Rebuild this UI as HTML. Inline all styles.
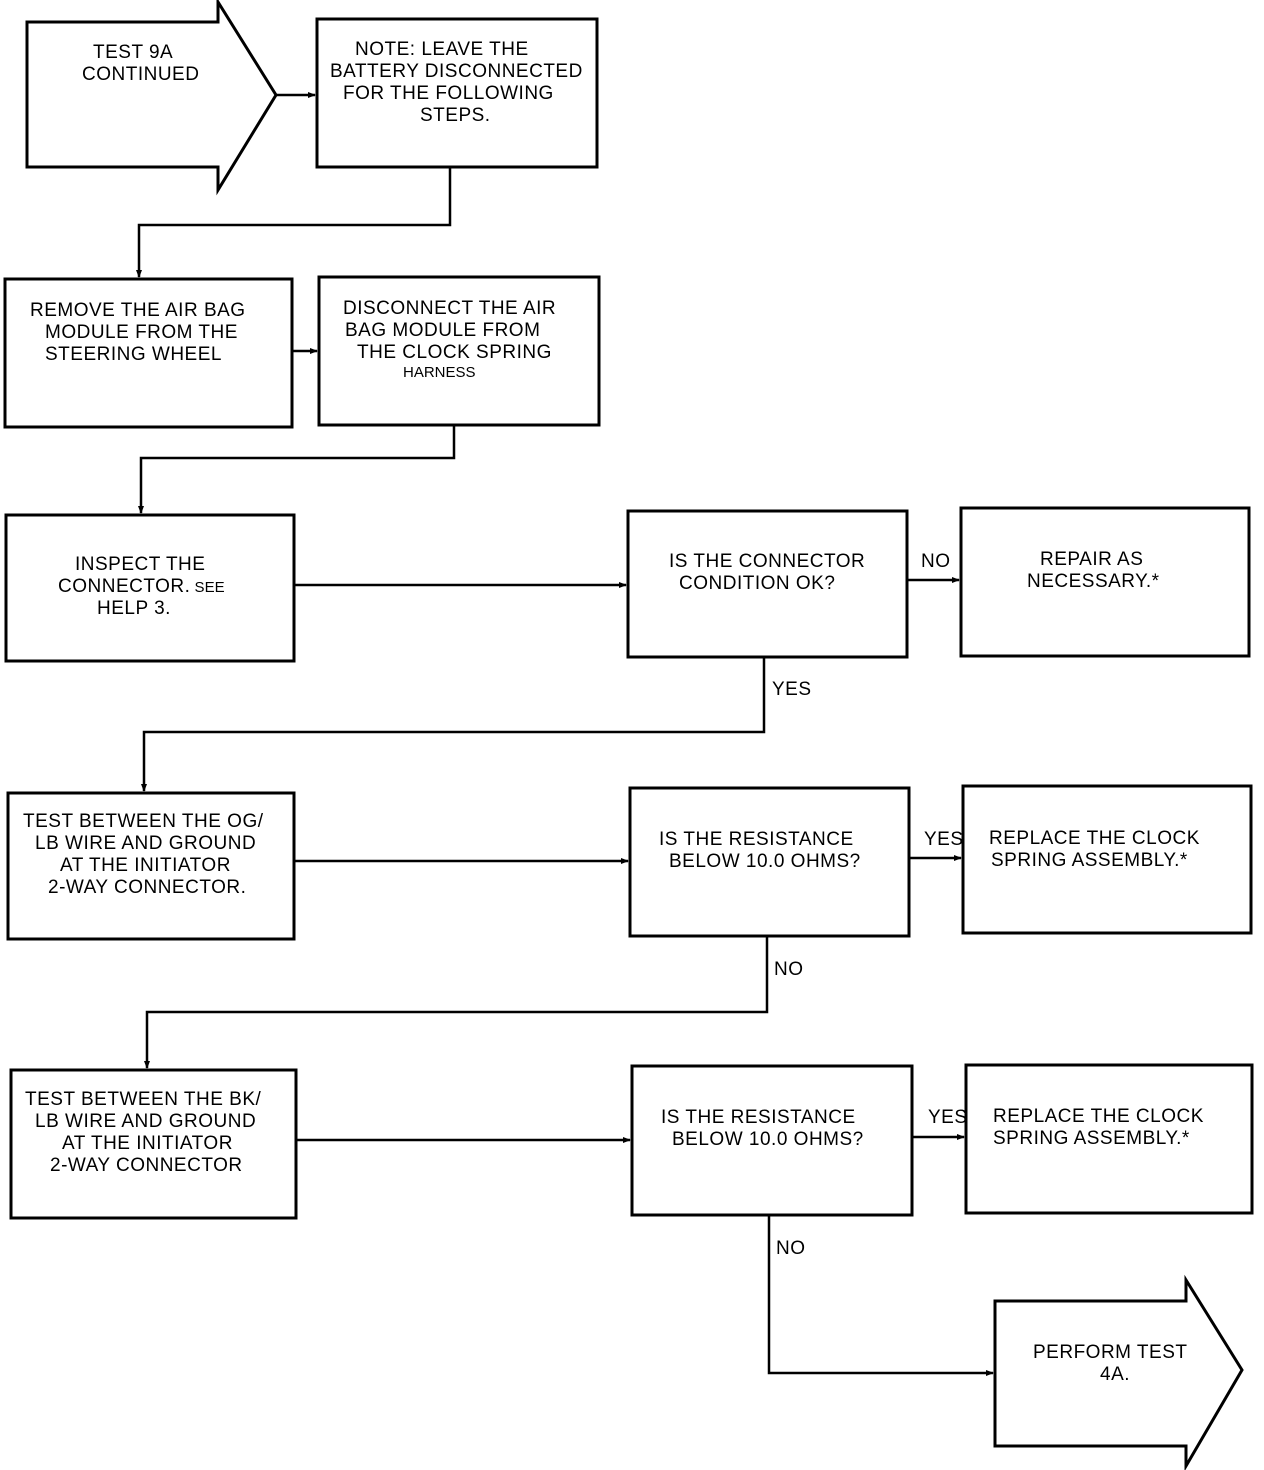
<!DOCTYPE html>
<html><head><meta charset="utf-8"><style>
html,body{margin:0;padding:0;background:#fff;}
svg{display:block;}
text{font-family:"Liberation Sans",sans-serif;font-size:19px;fill:#000;letter-spacing:0.5px;}
.s{font-size:15px;letter-spacing:0;}
</style></head><body>
<svg width="1264" height="1470" viewBox="0 0 1264 1470" xmlns="http://www.w3.org/2000/svg">
<defs><marker id="a" markerWidth="8" markerHeight="8" refX="7" refY="4" orient="auto" markerUnits="userSpaceOnUse"><path d="M0,1 L8,4 L0,7 Z" fill="#000"/></marker></defs>
<g fill="none" stroke="#000" stroke-width="3">
<polygon points="27,22 218,22 218,2 276,95 218,190 218,167 27,167"/>
<rect x="317" y="19" width="280" height="148"/>
<rect x="5" y="279" width="287" height="148"/>
<rect x="319" y="277" width="280" height="148"/>
<rect x="6" y="515" width="288" height="146"/>
<rect x="628" y="511" width="279" height="146"/>
<rect x="961" y="508" width="288" height="148"/>
<rect x="8" y="793" width="286" height="146"/>
<rect x="630" y="788" width="279" height="148"/>
<rect x="963" y="786" width="288" height="147"/>
<rect x="11" y="1070" width="285" height="148"/>
<rect x="632" y="1066" width="280" height="149"/>
<rect x="966" y="1065" width="286" height="148"/>
<polygon points="995,1301 1186,1301 1186,1280 1242,1370 1186,1466 1186,1446 995,1446"/>
</g>
<g fill="none" stroke="#000" stroke-width="2.5">
<path d="M276,95 L315,95" marker-end="url(#a)"/>
<path d="M450,167 L450,225 L139,225 L139,277" marker-end="url(#a)"/>
<path d="M292,351 L317,351" marker-end="url(#a)"/>
<path d="M454,425 L454,458 L141,458 L141,513" marker-end="url(#a)"/>
<path d="M294,585 L626,585" marker-end="url(#a)"/>
<path d="M907,580 L959,580" marker-end="url(#a)"/>
<path d="M764,657 L764,732 L144,732 L144,791" marker-end="url(#a)"/>
<path d="M294,861 L628,861" marker-end="url(#a)"/>
<path d="M909,858 L961,858" marker-end="url(#a)"/>
<path d="M767,936 L767,1012 L147,1012 L147,1068" marker-end="url(#a)"/>
<path d="M296,1140 L630,1140" marker-end="url(#a)"/>
<path d="M912,1137 L964,1137" marker-end="url(#a)"/>
<path d="M769,1215 L769,1373 L993,1373" marker-end="url(#a)"/>
</g>
<text x="93" y="58">TEST 9A</text>
<text x="82" y="80">CONTINUED</text>
<text x="355" y="55">NOTE: LEAVE THE</text>
<text x="330" y="77">BATTERY DISCONNECTED</text>
<text x="343" y="99">FOR THE FOLLOWING</text>
<text x="420" y="121">STEPS.</text>
<text x="30" y="316">REMOVE THE AIR BAG</text>
<text x="45" y="338">MODULE FROM THE</text>
<text x="45" y="360">STEERING WHEEL</text>
<text x="343" y="314">DISCONNECT THE AIR</text>
<text x="345" y="336">BAG MODULE FROM</text>
<text x="357" y="358">THE CLOCK SPRING</text>
<text x="403" y="377" class="s">HARNESS</text>
<text x="75" y="570">INSPECT THE</text>
<text x="58" y="592">CONNECTOR.<tspan class="s"> SEE</tspan></text>
<text x="97" y="614">HELP 3.</text>
<text x="669" y="567">IS THE CONNECTOR</text>
<text x="679" y="589">CONDITION OK?</text>
<text x="921" y="567">NO</text>
<text x="1040" y="565">REPAIR AS</text>
<text x="1027" y="587">NECESSARY.*</text>
<text x="772" y="695">YES</text>
<text x="23" y="827">TEST BETWEEN THE OG/</text>
<text x="35" y="849">LB WIRE AND GROUND</text>
<text x="60" y="871">AT THE INITIATOR</text>
<text x="48" y="893">2-WAY CONNECTOR.</text>
<text x="659" y="845">IS THE RESISTANCE</text>
<text x="669" y="867">BELOW 10.0 OHMS?</text>
<text x="924" y="845">YES</text>
<text x="989" y="844">REPLACE THE CLOCK</text>
<text x="991" y="866">SPRING ASSEMBLY.*</text>
<text x="774" y="975">NO</text>
<text x="25" y="1105">TEST BETWEEN THE BK/</text>
<text x="35" y="1127">LB WIRE AND GROUND</text>
<text x="62" y="1149">AT THE INITIATOR</text>
<text x="50" y="1171">2-WAY CONNECTOR</text>
<text x="661" y="1123">IS THE RESISTANCE</text>
<text x="672" y="1145">BELOW 10.0 OHMS?</text>
<text x="928" y="1123">YES</text>
<text x="993" y="1122">REPLACE THE CLOCK</text>
<text x="993" y="1144">SPRING ASSEMBLY.*</text>
<text x="776" y="1254">NO</text>
<text x="1033" y="1358">PERFORM TEST</text>
<text x="1100" y="1380">4A.</text>
</svg>
</body></html>
